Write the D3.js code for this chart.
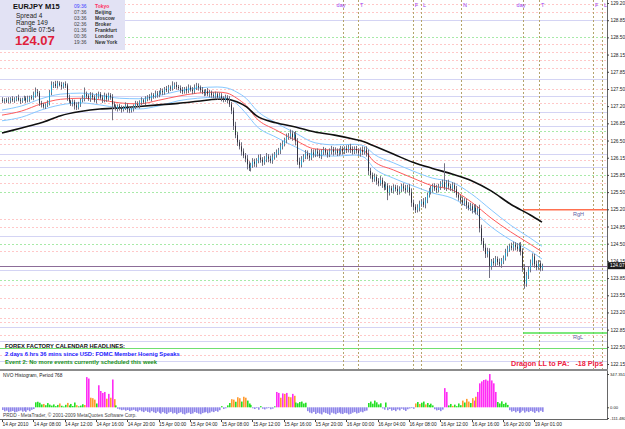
<!DOCTYPE html>
<html>
<head>
<meta charset="utf-8">
<script src="https://cdn.jsdelivr.net/npm/d3@7"></script>
<style>
  body { margin: 0; background: #fff; }
  svg { display: block; font-family: "Liberation Sans", Arial, sans-serif; }
</style>
</head>
<body>
<div id="chart"></div>
<script>
// EURJPY M15, 14 Apr 04:00 .. 19 Apr 02:00, one value per bar
var firstOpen = 127.31;
var closes = [
  127.29,127.31,127.28,127.30,127.33,127.30,127.32,127.35,127.31,127.29,
  127.32,127.34,127.30,127.33,127.36,127.34,127.40,127.46,127.44,127.24,
  127.22,127.18,127.20,127.24,127.45,127.60,127.62,127.58,127.63,127.60,
  127.57,127.62,127.59,127.35,127.28,127.24,127.27,127.20,127.16,127.22,
  127.30,127.34,127.42,127.38,127.33,127.40,127.36,127.30,127.38,127.42,
  127.35,127.31,127.39,127.33,127.40,127.36,127.22,127.18,127.14,127.19,
  127.15,127.12,127.16,127.20,127.13,127.10,127.14,127.18,127.23,127.20,
  127.26,127.30,127.27,127.33,127.36,127.34,127.40,127.38,127.43,127.41,
  127.45,127.48,127.46,127.52,127.50,127.55,127.53,127.58,127.60,127.56,
  127.54,127.50,127.47,127.52,127.49,127.55,127.51,127.48,127.54,127.58,
  127.55,127.50,127.46,127.44,127.48,127.42,127.45,127.40,127.38,127.42,
  127.36,127.39,127.34,127.31,127.35,127.30,127.22,127.10,126.80,126.62,
  126.48,126.40,126.30,126.22,126.16,126.05,125.98,126.03,126.10,126.06,
  126.12,126.18,126.14,126.09,126.15,126.20,126.16,126.12,126.19,126.24,
  126.28,126.32,126.40,126.45,126.52,126.58,126.60,126.65,126.58,126.63,
  126.50,126.10,126.04,126.15,126.20,126.26,126.22,126.18,126.28,126.24,
  126.30,126.26,126.22,126.29,126.33,126.28,126.24,126.30,126.34,126.29,
  126.32,126.27,126.31,126.35,126.30,126.36,126.33,126.38,126.34,126.30,
  126.35,126.32,126.27,126.33,126.29,126.34,126.26,125.92,125.84,125.76,
  125.80,125.72,125.68,125.74,125.66,125.60,125.63,125.50,125.58,125.54,
  125.60,125.57,125.52,125.56,125.62,125.58,125.55,125.60,125.50,125.30,
  125.22,125.16,125.20,125.28,125.32,125.26,125.35,125.45,125.52,125.57,
  125.62,125.58,125.55,125.62,125.66,125.70,125.60,125.68,125.62,125.58,
  125.64,125.56,125.45,125.40,125.35,125.30,125.33,125.25,125.20,125.23,
  125.16,125.20,125.13,125.18,124.80,124.55,124.42,124.30,124.35,124.05,
  124.15,124.12,124.20,124.14,124.10,124.16,124.22,124.32,124.40,124.45,
  124.42,124.48,124.44,124.40,124.46,124.35,124.02,123.72,123.88,124.00,
  124.12,124.25,124.10,124.04,124.12,124.02,124.07
];
// wick lengths in pips above max(open,close) / below min(open,close)
var wickUp = [
  5,3,4,6,3,5,4,3,6,4,3,5,4,6,3,4,7,9,6,4, 5,3,4,6,5,7,4,6,5,4,6,3,5,4,6,3,5,4,6,5,
  4,6,13,5,4,6,5,4,6,5,4,5,6,4,5,4,6,5,4,3, 4,5,3,6,4,5,3,4,6,5,4,6,3,5,4,6,5,4,6,5,
  4,6,5,4,6,5,4,9,5,6,4,5,6,4,5,6,4,5,7,6, 5,4,6,5,4,6,5,4,6,5,4,6,5,4,6,5,8,5,6,8,
  6,5,8,6,5,7,6,5,7,6,5,6,7,5,6,7,5,6,7,5, 6,5,7,6,5,7,6,8,6,5,7,6,8,6,5,7,6,5,7,6,
  5,6,7,5,6,4,5,6,7,5,6,4,5,6,5,4,6,5,7,6, 5,6,4,5,7,5,6,8,6,5,7,5,6,8,5,6,7,5,6,5,
  6,5,7,6,5,6,7,5,6,8, 6,5,7,6,5,7,6,5,7,6,5,6,7,5,6,5,37,6,7,5,
  6,5,7,6,5,7,6,5,6,7,5,6,7,5,8,7,6,8,7,6, 5,7,6,5,7,6,5,8,6,5,7,6,5,7,6,7,6,8,7,6,
  7,6,5,7,6,5,4
];
var wickDn = [
  4,5,3,4,6,3,5,4,3,6,4,3,5,4,6,3,4,5,6,5, 6,4,5,3,4,5,6,4,5,3,6,4,5,6,4,5,6,8,5,4,
  5,4,6,5,4,6,5,4,6,5,4,6,5,6,4,5,31,5,4,6, 5,6,4,5,7,5,4,6,5,4,6,5,4,6,5,4,6,5,4,6,
  5,4,6,5,4,6,5,4,6,5,4,6,5,4,6,5,4,6,5,4, 6,5,4,6,5,4,6,5,4,6,5,4,6,5,4,6,5,7,8,6,
  7,6,8,5,7,10,6,7,5,6,7,5,6,7,5,6,7,5,6,5, 6,5,7,6,5,6,5,6,7,5,8,6,7,5,6,5,7,6,5,6,
  5,6,5,7,6,5,6,5,6,7,5,6,5,7,6,5,6,5,7,6, 5,6,5,7,6,5,6,8,7,6,5,7,6,5,7,6,5,15,6,5,
  6,5,7,6,5,6,7,5,6,8, 7,6,5,7,6,5,7,6,5,6,7,5,6,5,7,6,5,7,6,5,
  6,7,5,6,7,5,6,7,5,6,7,5,6,7,8,7,6,8,7,22, 6,5,7,6,5,7,6,5,7,6,5,6,7,5,6,8,7,10,6,7,
  6,5,7,6,5,6,5
];

// moving averages, read at these bars
var maBars  = [0,10,20,30,40,50,60,70,80,90,100,110,115,120,125,130,140,150,160,170,180,185,190,200,210,220,230,240,250,260,270,276];
var maSlow  = [126.66,126.76,126.86,127.00,127.08,127.13,127.15,127.18,127.21,127.24,127.28,127.32,127.32,127.27,127.17,127.00,126.86,126.78,126.68,126.62,126.54,126.49,126.41,126.25,126.09,125.97,125.86,125.73,125.53,125.27,125.06,124.92];
var maMid   = [127.01,127.09,127.23,127.32,127.34,127.31,127.25,127.23,127.30,127.38,127.44,127.46,127.44,127.34,127.19,126.95,126.72,126.52,126.35,126.33,126.34,126.31,126.11,125.94,125.78,125.63,125.55,125.31,125.00,124.73,124.49,124.34];
var maHigh  = [127.11,127.19,127.33,127.42,127.44,127.40,127.34,127.33,127.39,127.48,127.54,127.56,127.54,127.46,127.33,127.11,126.86,126.66,126.47,126.43,126.44,126.41,126.25,126.08,125.92,125.78,125.70,125.47,125.16,124.86,124.61,124.45];
var maLow   = [126.90,126.97,127.11,127.21,127.25,127.21,127.15,127.13,127.19,127.29,127.34,127.36,127.34,127.23,127.03,126.80,126.58,126.39,126.23,126.21,126.23,126.19,125.98,125.78,125.63,125.49,125.39,125.16,124.83,124.57,124.36,124.20];

// NVO histogram, one value per bar, with colour code (g green, o orange, m magenta, b below zero)
var nvo = [
  -28,-42,-35,-50,-44,-38,-52,-47,-40,-33,-45,-36,-48,-30,-41,-26,-18,
  52,58,48,30,35,22,44,28,18,
  30,12,25,40,16,8,26,46,20,35,14,50,22,10,18,32,24,
  315,300,100,95,80,40,230,170,150,160,90,140,100,290,85,20,
  -15,-22,-30,-25,-35,-28,-40,-32,-26,-38,-45,-30,-42,-50,-36,-48,-55,-40,-52,-60,
  -45,-58,-66,-50,-62,-70,-55,-48,-64,-58,-72,-60,-52,-68,-74,-62,-56,-70,-64,-50,
  -58,-66,-72,-60,-54,-48,-62,-56,-44,-50,-38,-46,-30,
  12,-18,-10,20,
  45,85,80,58,105,95,60,110,100,70,40,25,
  -10,-18,-8,-25,12,-15,-22,-12,-8,-20,-14,10,
  160,150,100,145,140,150,110,105,140,120,
  50,42,55,60,40,48,
  -40,-55,-62,-48,-70,-58,-66,-74,-52,-60,-68,-78,-56,-64,-72,-60,-54,-66,-70,-58,
  -62,-74,-68,-56,-50,-64,-58,-46,-52,-40,-34,
  45,60,38,70,52,30,42,
  -12,-25,50,-30,-18,-35,-28,-40,-22,-32,-15,-26,-38,-20,-12,-8,-16,
  40,55,35,48,60,30,45,25,38,20,
  -20,-32,-28,-40,-24,
  200,160,
  20,35,15,28,12,40,22,
  70,50,88,60,45,
  95,70,110,
  160,250,270,285,290,278,347,280,250,160,
  55,40,62,35,48,25,
  -30,-45,-38,-52,-40,-60,-48,-35,-55,-42,-50,-38,-46,-58,-40,-52,-36,-48
];
var nvoCode =
  "bbbbbbbbbbbbbbbbb" + "ggggogggg" + "gggogggoggggogggo" + "mmooogmmmmomomog" +
  "bbbbbbbbbbbbbbbbbbbbbbbbbbbbbbbbbbbbbbbbbbbbbbbbbbbbb" + "gbbg" + "googoogooggg" + "bbbbgbbbbbbg" +
  "mmomomoomo" + "gggggg" + "bbbbbbbbbbbbbbbbbbbbbbbbbbbbbbb" + "ggggggg" + "bbgbbbbbbbbbbbbbb" +
  "ogoggogggg" + "bbbbb" + "mm" + "ggogggg" + "ogoog" + "omo" + "mmmmmmmmmm" + "gggggg" + "bbbbbbbbbbbbbbbbbb";
var nvoTicks  = [347.351, 0, -111.48];
var nvoLabels = ["347.351", "0.00", "-111.480"];

// price axis
var priceTicks  = [129.200,128.864,128.529,128.193,127.857,127.521,127.186,126.850,126.514,126.178,125.843,
                   125.507,125.171,124.835,124.500,124.164,123.828,123.492,123.157,122.821,122.485,122.150];
var priceLabels = ["129.20","128.85","128.50","128.15","127.85","127.50","127.20","126.85","126.50","126.15","125.85",
                   "125.50","125.20","124.85","124.50","124.15","123.85","123.55","123.20","122.85","122.50","122.15"];
var lastPrice = 124.07;

// time axis
var timeBars   = [0,16,32,48,64,80,96,112,128,144,160,176,192,208,224,240,256,272];
var timeLabels = ["14 Apr 2010","14 Apr 08:00","14 Apr 12:00","14 Apr 16:00","14 Apr 20:00","15 Apr 00:00",
                  "15 Apr 04:00","15 Apr 08:00","15 Apr 12:00","15 Apr 16:00","15 Apr 20:00","16 Apr 00:00",
                  "16 Apr 04:00","16 Apr 08:00","16 Apr 12:00","16 Apr 16:00","16 Apr 20:00","19 Apr 01:00"];

// horizontal level lines (price, colour code: p pink, l lavender, g green)
var levelPrices = [129.18,129.03,128.87,128.54,128.39,128.25,128.08,127.94,127.72,127.53,127.39,127.24,127.08,
                   126.93,126.80,126.70,126.55,126.44,126.26,126.14,125.99,125.84,125.69,125.51,
                   124.98,124.83,124.65,124.50,124.35,123.98,123.79,123.69,123.44,123.25,123.05,122.87,122.97,
                   122.72,122.60,122.33,122.21];
var levelCodes  = "pplgpppplplplplgpplplgpgpplgplgpppplpplpl";

// event vertical lines (bar position) and their tags
var eventBars = [174.3,182.0,210.0,214.2,234.6,266.3,274.5,302.1,306.7];
var eventTags = ["day","T","F","L","N","day","T","F","L"];

// range box lines
var rangeHigh = 125.16, rangeLow = 122.755, rangeStart = 266.3;
var greenLevel = 122.46;

// clocks in the info panel
var clockTimes = ["09:36","07:36","03:36","02:36","01:36","00:36","19:36"];
var clockNames = ["Tokyo","Beijing","Moscow","Broker","Frankfurt","London","New York"];

var W = 625, H = 429;
var svg = d3.select("#chart").append("svg").attr("width", W).attr("height", H);

var x  = d3.scaleLinear().domain([0, 276]).range([2, 542]);
var y  = d3.scaleLinear().domain([122.15, 129.20]).range([364, 3]);
var yh = d3.scaleLinear().domain([-111.48, 347.351]).range([418, 374]);

var colorCode = { p: "#ffc8c8", l: "#d4d4f4", g: "#a8eaa8" };
var nvoColor  = { g: "#22e022", o: "#ff9a2e", m: "#ff2cf4", b: "#8f86ea" };
var axisFont = "4.8px";

// level lines
svg.append("g").selectAll("line")
  .data(levelPrices)
  .enter().append("line")
  .attr("x1", 0).attr("x2", 607)
  .attr("y1", d => Math.round(y(d)) + 0.5).attr("y2", d => Math.round(y(d)) + 0.5)
  .attr("stroke", (d, i) => colorCode[levelCodes[i]])
  .attr("stroke-dasharray", (d, i) => levelCodes[i] == "l" ? null : "2,2");

svg.append("line")
  .attr("x1", 0).attr("x2", 607)
  .attr("y1", Math.round(y(greenLevel)) + 0.5).attr("y2", Math.round(y(greenLevel)) + 0.5)
  .attr("stroke", "#70e070");

// event lines
var ev = svg.append("g");
ev.selectAll("line")
  .data(eventBars)
  .enter().append("line")
  .attr("x1", d => Math.round(x(d)) + 0.5).attr("x2", d => Math.round(x(d)) + 0.5)
  .attr("y1", 0).attr("y2", 369)
  .attr("stroke", "#b4a46c")
  .attr("stroke-dasharray", "2,2");
ev.selectAll("text")
  .data(eventBars)
  .enter().append("text")
  .attr("x", (d, i) => eventTags[i] == "day" ? x(d) - 2 : x(d) + 2)
  .attr("y", 7)
  .attr("text-anchor", (d, i) => eventTags[i] == "day" ? "middle" : "start")
  .attr("font-size", "5.5px")
  .attr("fill", "#9a3cf0")
  .text((d, i) => eventTags[i]);

// range lines
svg.append("line")
  .attr("x1", x(rangeStart)).attr("x2", 607)
  .attr("y1", y(rangeHigh)).attr("y2", y(rangeHigh))
  .attr("stroke", "#ff7050").attr("stroke-width", 1.5);
svg.append("line")
  .attr("x1", x(rangeStart)).attr("x2", 607)
  .attr("y1", y(rangeLow)).attr("y2", y(rangeLow))
  .attr("stroke", "#50e050").attr("stroke-width", 1.5);
svg.append("text").attr("x", 573).attr("y", y(rangeHigh) + 6)
  .attr("font-size", "5.5px").attr("fill", "#6060a0").text("RgH");
svg.append("text").attr("x", 573).attr("y", y(rangeLow) + 6)
  .attr("font-size", "5.5px").attr("fill", "#6060a0").text("RgL");

// bid line
svg.append("line")
  .attr("x1", 0).attr("x2", 607)
  .attr("y1", Math.round(y(lastPrice)) + 0.5).attr("y2", Math.round(y(lastPrice)) + 0.5)
  .attr("stroke", "#8c6c98");

// moving averages
function maLine(vals) {
  return d3.line()
    .x((d, i) => x(maBars[i]))
    .y(d => y(d))
    .curve(d3.curveMonotoneX)(vals);
}
svg.append("path").attr("d", maLine(maHigh)).attr("fill", "none").attr("stroke", "#86c8ff");
svg.append("path").attr("d", maLine(maLow)).attr("fill", "none").attr("stroke", "#86c8ff");
svg.append("path").attr("d", maLine(maMid)).attr("fill", "none").attr("stroke", "#ff5a5a");
svg.append("path").attr("d", maLine(maSlow)).attr("fill", "none").attr("stroke", "#101010").attr("stroke-width", 1.6);

// candles
var bars = closes.map((c, i) => {
  var o = i == 0 ? firstOpen : closes[i - 1];
  return {
    i: i, o: o, c: c,
    h: Math.max(o, c) + wickUp[i] / 100,
    l: Math.min(o, c) - wickDn[i] / 100
  };
});
var cg = svg.append("g");
cg.selectAll("rect.w")
  .data(bars)
  .enter().append("rect")
  .attr("class", "w")
  .attr("x", d => Math.round(x(d.i)))
  .attr("width", 1)
  .attr("y", d => y(d.h))
  .attr("height", d => y(d.l) - y(d.h))
  .attr("fill", "#707080");
cg.selectAll("rect.b")
  .data(bars)
  .enter().append("rect")
  .attr("class", "b")
  .attr("x", d => Math.round(x(d.i)))
  .attr("width", 1)
  .attr("y", d => y(Math.max(d.o, d.c)))
  .attr("height", d => Math.max(1, Math.abs(y(d.o) - y(d.c))))
  .attr("fill", d => d.c >= d.o ? "#2aa0c8" : "#34343f");

// frame / separators
svg.append("line").attr("x1", 607.5).attr("x2", 607.5).attr("y1", 0).attr("y2", 420).attr("stroke", "#666");
svg.append("rect").attr("x", 0).attr("y", 369).attr("width", 608).attr("height", 2).attr("fill", "#8c8c8c");
svg.append("line").attr("x1", 0).attr("x2", 608).attr("y1", 419.5).attr("y2", 419.5).attr("stroke", "#666");

// price axis
var pAxis = d3.axisRight(y)
  .tickValues(priceTicks)
  .tickFormat((d, i) => priceLabels[i])
  .tickSize(2)
  .tickPadding(1.5);
svg.append("g")
  .attr("transform", "translate(607,0)")
  .call(pAxis)
  .call(g => g.select(".domain").remove())
  .call(g => g.selectAll("text").attr("font-size", axisFont).attr("font-family", "Liberation Sans").attr("fill", "#222"))
  .call(g => g.selectAll("line").attr("stroke", "#444"));

// last price tag
svg.append("rect").attr("x", 608).attr("y", y(lastPrice) - 3.5).attr("width", 17).attr("height", 7).attr("fill", "#1a1a1a");
svg.append("text").attr("x", 610).attr("y", y(lastPrice) + 1.8).attr("font-size", axisFont).attr("fill", "#fff").text(lastPrice.toFixed(2));

// NVO histogram
var hg = svg.append("g");
hg.selectAll("rect")
  .data(nvo)
  .enter().append("rect")
  .attr("x", (d, i) => Math.round(x(i)))
  .attr("width", 1.6)
  .attr("y", d => Math.min(yh(d), yh(0)))
  .attr("height", d => Math.abs(yh(d) - yh(0)))
  .attr("fill", (d, i) => nvoColor[d < 0 ? "b" : nvoCode[i]]);

var hAxis = d3.axisRight(yh)
  .tickValues(nvoTicks)
  .tickFormat((d, i) => nvoLabels[i])
  .tickSize(2).tickPadding(1);
svg.append("g")
  .attr("transform", "translate(607,0)")
  .call(hAxis)
  .call(g => g.select(".domain").remove())
  .call(g => g.selectAll("text").attr("font-size", "4.2px").attr("font-family", "Liberation Sans").attr("fill", "#222"))
  .call(g => g.selectAll("line").attr("stroke", "#444"));

svg.append("text").attr("x", 3).attr("y", 377).attr("font-size", "4.8px").attr("fill", "#222")
  .text("NVO Histogram, Period 768");
svg.append("text").attr("x", 3).attr("y", 417).attr("font-size", "4.8px").attr("fill", "#444")
  .text("PRDD - MetaTrader, \u00a9 2001-2009 MetaQuotes Software Corp.");

// time axis
var tg = svg.append("g");
tg.selectAll("line")
  .data(timeBars)
  .enter().append("line")
  .attr("x1", d => Math.round(x(d)) + 0.5).attr("x2", d => Math.round(x(d)) + 0.5)
  .attr("y1", 420).attr("y2", 422)
  .attr("stroke", "#444");
tg.selectAll("text")
  .data(timeBars)
  .enter().append("text")
  .attr("x", d => x(d) + 0.5)
  .attr("y", 426)
  .attr("font-size", axisFont)
  .attr("fill", "#222")
  .text((d, i) => timeLabels[i]);

// info panel
svg.append("rect").attr("x", 0).attr("y", 0).attr("width", 125).attr("height", 50).attr("fill", "#e2e2f4");
var info = svg.append("g").attr("font-family", "Liberation Sans");
info.append("text").attr("x", 13).attr("y", 9).attr("font-size", "7.5px").attr("font-weight", "bold").attr("fill", "#111").text("EURJPY   M15");
info.append("text").attr("x", 16).attr("y", 18).attr("font-size", "6.5px").attr("fill", "#222").text("Spread   4");
info.append("text").attr("x", 16).attr("y", 25).attr("font-size", "6.5px").attr("fill", "#222").text("Range    149");
info.append("text").attr("x", 16).attr("y", 32).attr("font-size", "6.5px").attr("fill", "#222").text("Candle   07:54");
info.append("text").attr("x", 15).attr("y", 45).attr("font-size", "13px").attr("font-weight", "bold").attr("fill", "#e01e3c").text(lastPrice.toFixed(2));
info.selectAll("text.t")
  .data(clockTimes)
  .enter().append("text")
  .attr("class", "t")
  .attr("x", 74).attr("y", (d, i) => 7.5 + i * 6)
  .attr("font-size", "5px")
  .attr("fill", (d, i) => i == 0 ? "#4040ff" : "#444")
  .text(d => d);
info.selectAll("text.n")
  .data(clockNames)
  .enter().append("text")
  .attr("class", "n")
  .attr("x", 95).attr("y", (d, i) => 7.5 + i * 6)
  .attr("font-size", "5px")
  .attr("font-weight", "bold")
  .attr("fill", (d, i) => i == 0 ? "#ff3060" : "#333")
  .text(d => d);

// calendar headlines
svg.append("text").attr("x", 5).attr("y", 348).attr("font-size", "5.8px").attr("font-weight", "bold").attr("fill", "#111")
  .text("FOREX FACTORY CALENDAR  HEADLINES:");
svg.append("text").attr("x", 5).attr("y", 356).attr("font-size", "5.8px").attr("font-weight", "bold").attr("fill", "#1a1aff")
  .text("2 days 6 hrs 36 mins since USD: FOMC Member Hoenig Speaks");
svg.append("text").attr("x", 5).attr("y", 364).attr("font-size", "5.8px").attr("font-weight", "bold").attr("fill", "#169016")
  .text("Event 2: No more events currently scheduled this week");

svg.append("text").attr("x", 511).attr("y", 366).attr("font-size", "7.2px").attr("font-weight", "bold").attr("fill", "#ee2244")
  .text("Dragon LL to PA:");
svg.append("text").attr("x", 603).attr("y", 366).attr("text-anchor", "end").attr("font-size", "7.2px").attr("font-weight", "bold").attr("fill", "#ee2244")
  .text("-18 Pips");
</script>
</body>
</html>
